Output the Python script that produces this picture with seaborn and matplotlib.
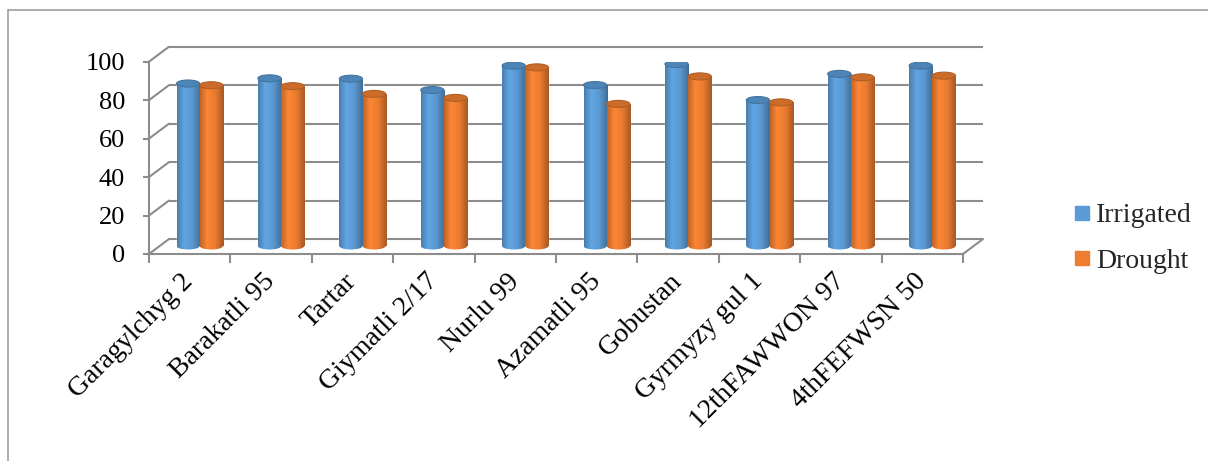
import numpy as np
import pandas as pd
import matplotlib
matplotlib.use("Agg")
import matplotlib.pyplot as plt
import seaborn as sns
from matplotlib.patches import Ellipse
from matplotlib.colors import LinearSegmentedColormap, to_rgb
from matplotlib.transforms import ScaledTranslation
from matplotlib.lines import Line2D

# ---- data -------------------------------------------------------------
varieties = ["Garagylchyg 2", "Barakatli 95", "Tartar", "Giymatli 2/17", "Nurlu 99",
             "Azamatli 95", "Gobustan", "Gyrmyzy gul 1", "12thFAWWON 97", "4thFEFWSN 50"]
irrigated = [84.5, 87.2, 87.0, 81.1, 93.8, 83.7, 94.6, 75.9, 89.5, 93.8]
drought = [83.6, 83.1, 79.1, 77.0, 92.9, 73.9, 88.2, 74.7, 87.7, 88.6]
conditions = ["Irrigated", "Drought"]
y_ticks = [0, 20, 40, 60, 80, 100]

df = pd.DataFrame({
    "Variety": varieties * 2,
    "Value": irrigated + drought,
    "Condition": [conditions[0]] * len(varieties) + [conditions[1]] * len(varieties),
})

# ---- style --------------------------------------------------------------
sns.set_theme(style="white")
plt.rcParams["font.family"] = ["Liberation Serif", "DejaVu Serif"]

DPI = 100
W, H = 1208, 461
palette = {"Irrigated": "#5B9BD5", "Drought": "#ED7D31"}
grid_col = "#8c8c8c"
fs_y = 19
fs = 20

fig = plt.figure(figsize=(W / DPI, H / DPI), dpi=DPI)
fig.patch.set_facecolor("white")
ax = fig.add_axes([149 / W, (H - 254) / H, (963 - 149) / W, (254 - 61.7) / H])
ax.set_facecolor("none")

sns.barplot(data=df, x="Variety", y="Value", hue="Condition", hue_order=conditions,
            palette=palette, width=0.57, saturation=1, errorbar=None,
            legend=False, ax=ax, zorder=3)

ax.set_autoscale_on(False)
ax.set_xlim(-0.5, len(varieties) - 0.5)
ax.set_ylim(0, 100)

# depth offsets (pixels) for the pseudo-3D walls and the bar row
back_tr = ax.transData + ScaledTranslation(20 / DPI, 15 / DPI, fig.dpi_scale_trans)
bar_tr = ax.transData + ScaledTranslation(10 / DPI, 8 / DPI, fig.dpi_scale_trans)

p0 = ax.transData.transform([(-0.5, 0.0)])[0]
q0 = ax.transData.inverted().transform([p0 + np.array([20.0, 15.0])])[0]
ddx, ddy = q0[0] + 0.5, q0[1]
px_per_y = ax.transData.transform([(0, 1)])[0][1] - ax.transData.transform([(0, 0)])[0][1]
cap_h = 7.0 / px_per_y

# back wall gridlines and side-wall diagonals
grid_kw = dict(color=grid_col, lw=1.5, clip_on=False, zorder=1)
ax.hlines(y_ticks, -0.5, len(varieties) - 0.5, transform=back_tr, **grid_kw)
for yv in y_ticks:
    ax.plot([-0.5, -0.5 + ddx], [yv, yv + ddy], **grid_kw)
ax.plot([len(varieties) - 0.5, len(varieties) - 0.5 + ddx], [0, ddy], **grid_kw)


def scale(c, f):
    return tuple(min(1.0, v * f) for v in to_rgb(c))


def cylinder_cmap(base):
    return LinearSegmentedColormap.from_list(
        "cyl", [(0.0, scale(base, 0.80)), (0.30, scale(base, 1.07)),
                (0.65, scale(base, 0.98)), (1.0, scale(base, 0.70))])


# cylinder shading for each bar: body, rounded base and top face
grad = np.linspace(0, 1, 128).reshape(1, -1)
for cond, container in zip(conditions, ax.containers):
    base = palette[cond]
    cmap = cylinder_cmap(base)
    for bar in container:
        bar.set_transform(bar_tr)
        x0, w, h = bar.get_x(), bar.get_width(), bar.get_height()
        body = ax.imshow(grad, cmap=cmap, extent=[x0, x0 + w, 0, h], aspect="auto",
                         transform=bar_tr, interpolation="bilinear", zorder=3.1)
        body.set_clip_path(bar)
        foot = Ellipse((x0 + w / 2, 0), w, cap_h, transform=bar_tr,
                       facecolor="none", edgecolor="none", zorder=3.0)
        ax.add_patch(foot)
        rim = ax.imshow(grad, cmap=cmap, extent=[x0, x0 + w, -cap_h, cap_h],
                        aspect="auto", transform=bar_tr, interpolation="bilinear",
                        zorder=3.05)
        rim.set_clip_path(foot)
        ax.add_patch(Ellipse((x0 + w / 2, h), w, cap_h, transform=bar_tr,
                             facecolor=scale(base, 0.86), edgecolor=scale(base, 0.75),
                             lw=0.8, zorder=3.2))

# axes lines
for side in ("top", "right"):
    ax.spines[side].set_visible(False)
for side in ("left", "bottom"):
    ax.spines[side].set_visible(True)
    ax.spines[side].set_color(grid_col)
    ax.spines[side].set_linewidth(1.5)
    ax.spines[side].set_zorder(1)

ax.set_yticks(y_ticks)
ax.set_yticklabels([str(v) for v in y_ticks], fontsize=fs_y)
ax.tick_params(axis="y", left=True, length=4.3, width=1.5, color=grid_col,
               pad=13, labelcolor="black")

ax.set_xticks(np.arange(-0.5, len(varieties), 1.0))
ax.set_xticklabels([""] * (len(varieties) + 1))
ax.set_xticks(np.arange(len(varieties)), minor=True)
ax.set_xticklabels(varieties, minor=True, rotation=45, ha="right", va="center",
                   rotation_mode="anchor", fontsize=fs)
ax.tick_params(axis="x", which="major", bottom=True, length=6.5, width=1.5, color=grid_col)
ax.tick_params(axis="x", which="minor", bottom=True, length=0, pad=17, labelcolor="black")
ax.set_xlabel("")
ax.set_ylabel("")

# legend
handles = [Line2D([], [], marker="s", linestyle="none", markersize=10,
                  markerfacecolor=palette[c], markeredgecolor=palette[c]) for c in conditions]
fig.legend(handles, conditions, loc="center left",
           bbox_to_anchor=(1074 / W, (H - 238.5) / H), bbox_transform=fig.transFigure,
           frameon=False, fontsize=fs, handlelength=0.6, handletextpad=0.2,
           labelspacing=0.72, borderaxespad=0, borderpad=0)

# chart frame
frame_kw = dict(transform=fig.transFigure, color="#a0a0a0", lw=1.2)
fig.add_artist(Line2D([8 / W, 8 / W], [0, (H - 10) / H], **frame_kw))
fig.add_artist(Line2D([8 / W, 1], [(H - 10) / H, (H - 10) / H], **frame_kw))

fig.savefig("out.png", dpi=DPI, facecolor="white")
